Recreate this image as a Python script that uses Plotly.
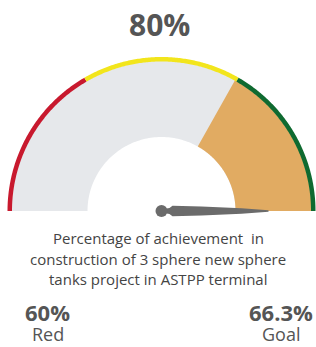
import numpy as np
import plotly.graph_objects as go

# ---- data ----
gauge_min = 0
gauge_max = 100
value_label = "80%"
band_limits = [0, 33.3, 66.7, 100]
band_colors = ["#C8192E", "#F2E51C", "#0F6A30"]
fill_start = 66.3   # goal
fill_end = 100
needle_value = 100
caption = ["Percentage of achievement  in", "construction of 3 sphere new sphere", "tanks project in ASTPP terminal"]
left_value, left_label = "60%", "Red"
right_value, right_label = "66.3%", "Goal"

# ---- geometry (pixel-like units, centre of gauge at origin) ----
W, H = 316, 347
cx_px, cy_px = 161.5, 211
R_OUT, R_BAND, R_IN = 154, 149.5, 74


def ang(v):
    f = (v - gauge_min) / (gauge_max - gauge_min)
    return np.pi * (1 - f)


def sector(v0, v1, r0, r1, n=120):
    a = np.linspace(ang(v0), ang(v1), n)
    xo, yo = r1 * np.cos(a), r1 * np.sin(a)
    xi, yi = r0 * np.cos(a[::-1]), r0 * np.sin(a[::-1])
    pts = [f"{x:.2f},{y:.2f}" for x, y in zip(np.r_[xo, xi], np.r_[yo, yi])]
    return "M" + " L".join(pts) + " Z"


shapes = []
shapes.append(dict(type="path", path=sector(gauge_min, gauge_max, R_IN, R_BAND + 0.5),
                   fillcolor="#E6E8EB", line=dict(width=0), layer="below"))
shapes.append(dict(type="path", path=sector(fill_start, fill_end, R_IN, R_BAND + 0.5),
                   fillcolor="#E1AB62", line=dict(width=0)))
for i, c in enumerate(band_colors):
    shapes.append(dict(type="path", path=sector(band_limits[i], band_limits[i + 1], R_BAND, R_OUT),
                       fillcolor=c, line=dict(width=0)))

# needle
a = ang(needle_value)
L = 107
prof = [(5, 2.6), (8, 3.0), (11, 5.2), (40, 4.6), (80, 2.8), (L, 0.8)]
ux, uy = np.cos(a), np.sin(a)
px, py = -np.sin(a), np.cos(a)
top = [(d * ux + w * px, d * uy + w * py) for d, w in prof]
bot = [(d * ux - w * px, d * uy - w * py) for d, w in prof][::-1]
npath = "M" + " L".join(f"{x:.2f},{y:.2f}" for x, y in top + bot) + " Z"
shapes.append(dict(type="path", path=npath, fillcolor="#6B6B6B", line=dict(width=0)))
shapes.append(dict(type="circle", x0=-6, x1=6, y0=-6, y1=6, fillcolor="#6B6B6B", line=dict(width=0)))

fig = go.Figure()
fig.add_trace(go.Scatter(x=[0], y=[0], mode="markers", marker=dict(opacity=0), hoverinfo="skip", showlegend=False))

ann = []
font = "Open Sans, Noto Sans, sans-serif"


def px2(x, y):
    return x - cx_px, cy_px - y


x, y = px2(159, 24)
ann.append(dict(x=x, y=y, text=f"<b>{value_label}</b>", font=dict(size=30, color="#555555", family=font)))
for i, line in enumerate(caption):
    x, y = px2(158, 238 + i * 20.5)
    ann.append(dict(x=x, y=y, text=line, font=dict(size=15, color="#444444", family=font)))
x, y = px2(47, 312)
ann.append(dict(x=x, y=y, text=f"<b>{left_value}</b>", font=dict(size=22, color="#555555", family=font)))
x, y = px2(48, 334)
ann.append(dict(x=x, y=y, text=left_label, font=dict(size=18, color="#555555", family=font)))
x, y = px2(281, 312)
ann.append(dict(x=x, y=y, text=f"<b>{right_value}</b>", font=dict(size=22, color="#555555", family=font)))
x, y = px2(281, 334)
ann.append(dict(x=x, y=y, text=right_label, font=dict(size=18, color="#555555", family=font)))
for a_ in ann:
    a_.update(showarrow=False, xref="x", yref="y", xanchor="center", yanchor="middle")

fig.update_layout(
    width=W, height=H,
    margin=dict(l=0, r=0, t=0, b=0),
    paper_bgcolor="white", plot_bgcolor="white",
    xaxis=dict(range=[-cx_px, W - cx_px], visible=False, fixedrange=True),
    yaxis=dict(range=[-(H - cy_px), cy_px], visible=False, fixedrange=True),
    shapes=shapes, annotations=ann, showlegend=False,
)
fig.write_html("out.html", config={"displayModeBar": False},
               post_script="document.body.style.margin='0';document.body.style.overflow='hidden';")
